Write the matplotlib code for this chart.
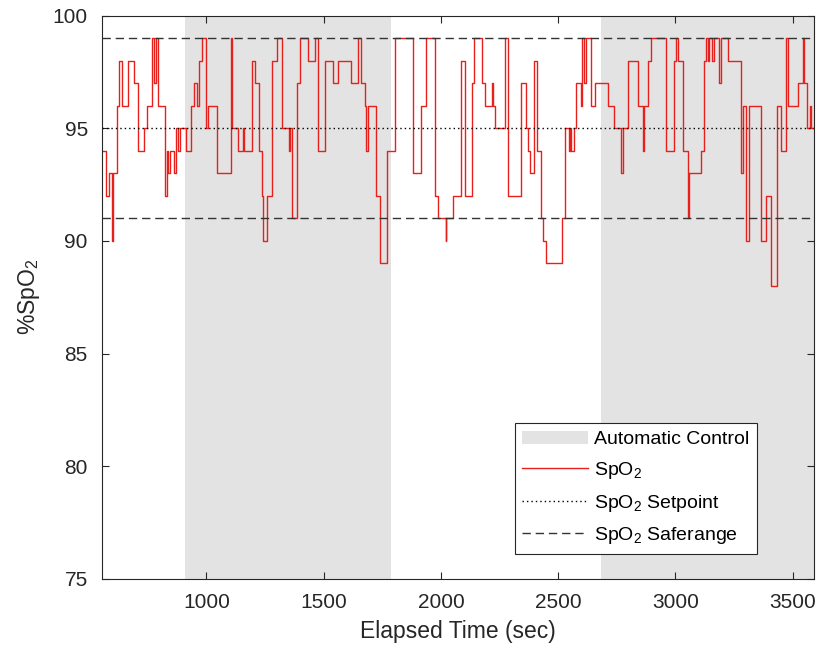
import numpy as np
import matplotlib
matplotlib.use("Agg")
import matplotlib.pyplot as plt

plt.rcParams["font.family"] = ["Liberation Sans", "DejaVu Sans"]
plt.rcParams["mathtext.fontset"] = "custom"
plt.rcParams["mathtext.rm"] = "Liberation Sans"
plt.rcParams["mathtext.it"] = "Liberation Sans"

# step breakpoints (time in sec, SpO2 %)
time_s = [
    553, 570, 585, 598, 603, 617, 625, 638, 664, 691, 709, 733, 747, 769, 776, 783,
    792, 824, 830, 837, 844, 862, 872, 879, 887, 912, 933, 946, 960, 966, 979, 996,
    1005, 1043, 1104, 1110, 1135, 1154, 1159, 1192, 1209, 1225, 1235, 1240, 1256, 1279,
    1299, 1324, 1352, 1358, 1365, 1388, 1398, 1433, 1462, 1476, 1504, 1540, 1561, 1618,
    1646, 1660, 1675, 1682, 1689, 1721, 1739, 1770, 1802, 1881, 1916, 1935, 1938, 1973,
    1987, 2020, 2023, 2051, 2084, 2101, 2132, 2140, 2176, 2186, 2219, 2224, 2231, 2271,
    2285, 2342, 2364, 2371, 2378, 2395, 2409, 2427, 2437, 2449, 2517, 2531, 2545, 2551,
    2555, 2566, 2574, 2598, 2602, 2612, 2617, 2640, 2655, 2711, 2740, 2768, 2775, 2796,
    2839, 2860, 2867, 2881, 2896, 2960, 2995, 3004, 3012, 3031, 3052, 3059, 3109, 3123,
    3130, 3137, 3144, 3158, 3166, 3187, 3194, 3222, 3279, 3286, 3301, 3315, 3364, 3386,
    3407, 3431, 3450, 3471, 3478, 3521, 3542, 3549, 3563, 3573, 3579, 3592,
]
spo2 = [
    94, 92, 93, 90, 93, 96, 98, 96, 98, 97, 94, 95, 96, 99, 97, 99,
    96, 92, 94, 93, 94, 93, 95, 94, 95, 94, 96, 97, 96, 98, 99, 95,
    96, 93, 99, 95, 94, 95, 94, 98, 97, 94, 92, 90, 92, 98,
    99, 95, 94, 95, 91, 97, 99, 98, 99, 94, 98, 97, 98, 97,
    99, 97, 96, 94, 96, 92, 89, 94, 99, 93, 96, 97, 99, 92,
    91, 90, 91, 92, 98, 92, 97, 99, 97, 96, 97, 96, 95, 99,
    92, 97, 95, 94, 93, 98, 94, 91, 90, 89, 91, 95, 94, 95,
    94, 95, 97, 96, 99, 97, 99, 96, 97, 96, 95, 93, 95, 98,
    96, 94, 96, 98, 99, 94, 98, 99, 98, 94, 91, 93, 94, 98,
    99, 98, 99, 98, 99, 97, 99, 98, 93, 96, 90, 96, 90, 92,
    88, 96, 94, 99, 96, 97, 99, 97, 95, 96, 95, 95,
]

auto_periods = [(908, 1785), (2682, 3592)]
setpoint = 95
safe_low, safe_high = 91, 99
x_range = (553, 3592)
y_range = (75, 100)

fig = plt.figure(figsize=(8.2, 6.54), dpi=100)
ax = fig.add_axes([0.124, 0.115, 0.869, 0.861])

for i, (a, b) in enumerate(auto_periods):
    ax.axvspan(a, b, color="#e3e3e3", lw=0, label="Automatic Control" if i == 0 else None)

ax.plot(time_s, spo2, drawstyle="steps-post", color="#e8201c", lw=1.0, label="SpO$_2$")
ax.axhline(setpoint, color="black", ls=(0, (1, 2.2)), lw=1.0, label="SpO$_2$ Setpoint")
ax.axhline(safe_high, color="#333333", ls=(0, (6, 3.5)), lw=1.0, label="SpO$_2$ Saferange")
ax.axhline(safe_low, color="#333333", ls=(0, (6, 3.5)), lw=1.0)

ax.set_xlim(*x_range)
ax.set_ylim(*y_range)
ax.set_xticks([1000, 1500, 2000, 2500, 3000, 3500])
ax.set_yticks([75, 80, 85, 90, 95, 100])
ax.tick_params(direction="in", top=True, right=True, length=5, width=0.8,
               labelsize=15, colors="#262626", pad=10)
for s in ax.spines.values():
    s.set_color("#262626")
    s.set_linewidth(0.8)

ax.set_xlabel("Elapsed Time (sec)", fontsize=16.5, color="#262626", labelpad=6)
ax.set_ylabel("%SpO$_2$", fontsize=16.5, color="#262626", labelpad=8)

leg = ax.legend(loc="lower right", bbox_to_anchor=(0.92, 0.044), borderaxespad=0,
                fontsize=14, frameon=True, fancybox=False, framealpha=1,
                edgecolor="#262626", handlelength=3.4, handletextpad=0.3,
                labelspacing=0.6, borderpad=0.4)
leg.get_frame().set_linewidth(0.8)

fig.savefig("out.png", dpi=100)
